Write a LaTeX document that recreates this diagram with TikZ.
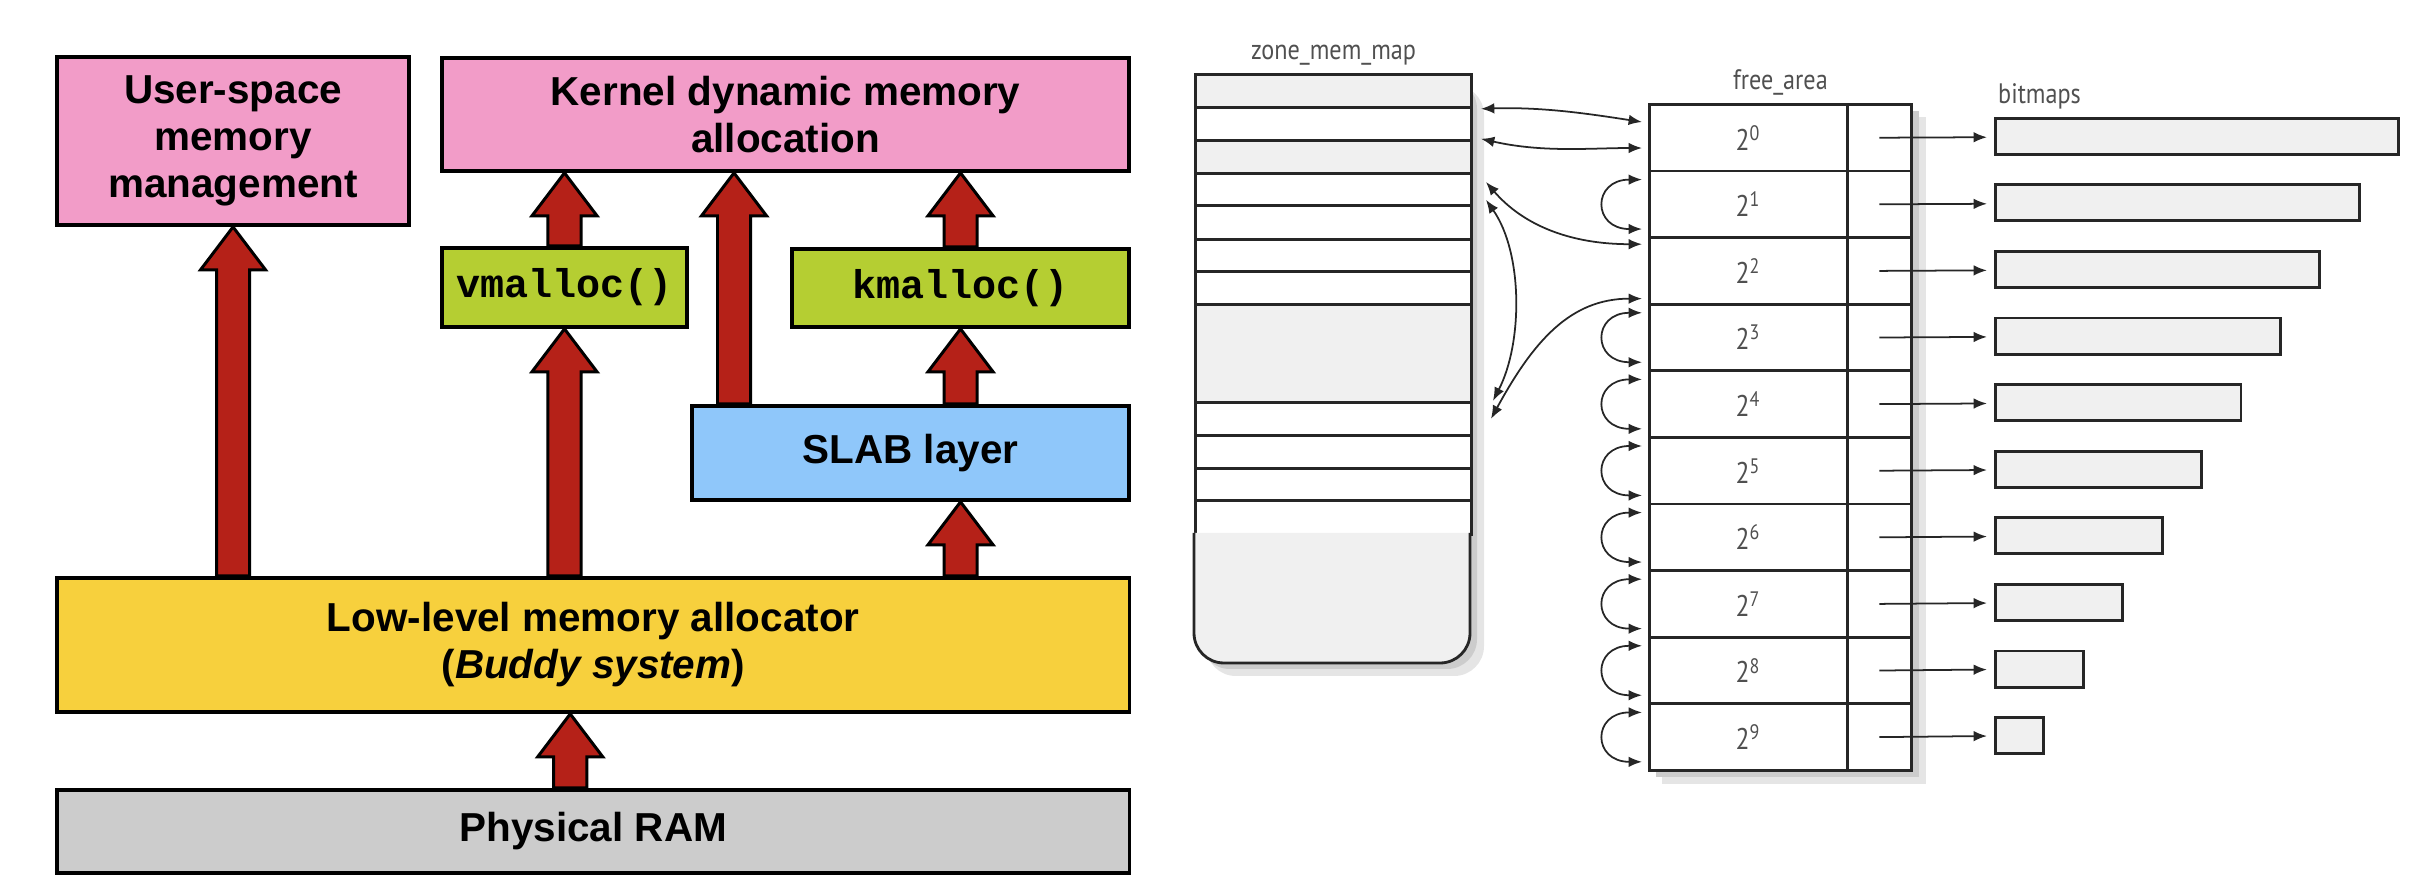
\documentclass[tikz,border=0pt]{standalone}
\usepackage{fontspec}
\setmainfont{Liberation Sans}
\setmonofont{Liberation Mono}
\newfontfamily\mapfont[FakeStretch=0.86]{PT Sans}
\usetikzlibrary{arrows.meta, calc, positioning}
\definecolor{memPink}{RGB}{242,156,200}
\definecolor{memGreen}{RGB}{181,206,50}
\definecolor{memBlue}{RGB}{143,199,250}
\definecolor{memYellow}{RGB}{247,208,61}
\definecolor{memGray}{RGB}{204,204,204}
\definecolor{arrowRed}{RGB}{181,33,24}
\definecolor{mapGray}{RGB}{240,240,240}
\definecolor{mapText}{RGB}{80,80,80}
\tikzset{
    mem_box/.style={
        draw=black,
        line width=1.1pt,
        inner sep=2pt,
        align=center,
        anchor=north west,
        font=\fontsize{11.5}{13.4}\selectfont\bfseries
    },
    code_box/.style={
        mem_box,
        fill=memGreen,
        font=\fontsize{11.4}{13.4}\selectfont\ttfamily\bfseries
    },
    big_arrow/.style={draw=black, fill=arrowRed, line width=0.85pt, line join=miter},
    map_row/.style={
        draw=black!85,
        line width=0.8pt,
        inner sep=0pt,
        minimum width=2.76cm,
        anchor=north west
    },
    fa_cell/.style={
        draw=black!85,
        fill=white,
        line width=0.8pt,
        inner sep=0pt,
        minimum height=0.666cm,
        anchor=north west,
        text=mapText,
        font=\mapfont\fontsize{8.5}{10}\selectfont
    },
    bitmap_box/.style={
        draw=black!85,
        fill=mapGray,
        line width=0.8pt,
        inner sep=0pt,
        minimum height=0.36cm,
        anchor=west
    },
    map_label/.style={inner sep=1pt, text=mapText, font=\mapfont\fontsize{8}{9.6}\selectfont},
    link_arrow/.style={draw=black!85, line width=0.5pt, >={Latex[length=3.8pt, width=3pt]}, <->},
    ptr_arrow/.style={draw=black!85, line width=0.5pt, >={Latex[length=3.8pt, width=3pt]}, ->, shorten >=2pt}
}
\newcommand{\upArrow}[2]{%
    \draw[big_arrow] let \p1=(#1), \p2=(#2) in
        (\x1-4.7pt,\y1) -- (\x1-4.7pt,\y2-12.2pt) -- (\x1-9.25pt,\y2-12.2pt) -- (\x1,\y2)
        -- (\x1+9.25pt,\y2-12.2pt) -- (\x1+4.7pt,\y2-12.2pt) -- (\x1+4.7pt,\y1) -- cycle;}

\begin{document}
\begin{tikzpicture}[x=0.01cm, y=-0.01cm]
    \useasboundingbox (0,0) rectangle (2414,886);

    % Left : memory allocation layers
    \node[mem_box, fill=memPink, minimum width=3.52cm, minimum height=1.68cm] (usr) at (55,55) {User-space\\memory\\management};
    \node[mem_box, fill=memPink, minimum width=6.87cm, minimum height=1.13cm] (kern) at (440,56) {Kernel dynamic memory\\allocation};
    \node[code_box, minimum width=2.45cm, minimum height=0.79cm] (vmal) at (440,246) {vmalloc()};
    \node[code_box, minimum width=3.37cm, minimum height=0.78cm] (kmal) at (790,247) {kmalloc()};
    \node[mem_box, fill=memBlue, minimum width=4.37cm, minimum height=0.94cm] (slab) at (690,404) {SLAB layer};
    \node[mem_box, fill=memYellow, minimum width=10.72cm, minimum height=1.34cm] (low) at (55,576) {Low-level memory allocator\\(\textit{Buddy system})};
    \node[mem_box, fill=memGray, minimum width=10.72cm, minimum height=0.83cm] (ram) at (55,788) {Physical RAM};

    \upArrow{low.north -| usr.south}{usr.south}
    \upArrow{low.north -| vmal.south}{vmal.south}
    \upArrow{vmal.north}{kern.south}
    \upArrow{[xshift=0.44cm]slab.north west}{kern.south}
    \upArrow{kmal.north}{kern.south}
    \upArrow{slab.north -| kmal.south}{kmal.south}
    \upArrow{low.north -| kmal.south}{slab.south}
    \upArrow{[xshift=-0.23cm]ram.north}{low.south}

    % Right : zone_mem_map
    \fill[black!10, rounded corners=8.5pt] (1206,85) rectangle (1484,676);
    \fill[black!20, rounded corners=8.5pt] (1200,79) rectangle (1477,669);
    \foreach \n/\ytop/\yh/\shade in {1/73/33/mapGray, 2/106/33/white, 3/139/33/mapGray, 4/172/32/white,
        5/204/34/white, 6/238/32/white, 7/270/33/white, 8/303/98/mapGray, 9/401/33/white,
        10/434/33/white, 11/467/32/white, 12/499/34/white}
        \node[map_row, fill=\shade, minimum height=\yh*0.01cm] (zm\n) at (1194,\ytop) {};
    \draw[draw=black!85, line width=0.8pt, fill=mapGray, rounded corners=8.5pt]
        (1194,533) -- (1194,663) -- (1470,663) -- (1470,533);
    \node[map_label, above=1pt of zm1] (zmtitle) {zone\_mem\_map};

    % free_area and bitmaps
    \fill[black!10] (1662,117) rectangle (1926,784);
    \fill[black!20] (1656,111) rectangle (1919,777);
    \foreach \i in {0,...,9} {
        \node[fa_cell, minimum width=1.98cm] (ord\i) at (1648,{103+66.6*\i}) {2\textsuperscript{\i}};
        \node[fa_cell, minimum width=0.64cm] (ptr\i) at (1846,{103+66.6*\i}) {};
        \node[bitmap_box, minimum width={(4.03-0.394*\i)*1cm}] (bm\i) at (1994,{136.3+66.6*\i}) {};
        \draw[ptr_arrow] (ptr\i.center) -- (bm\i);
    }
    \coordinate (fatop) at ($(ord0.north west)!0.5!(ptr0.north east)$);
    \node[map_label, above=1pt of fatop] (fatitle) {free\_area};
    \node[map_label, above right=1pt and 0pt of bm0.north west] (bmtitle) {bitmaps};

    % links between zone_mem_map and free_area
    \foreach \i in {1,3,4,5,6,7,8,9}
        \draw[link_arrow] ([xshift=-0.06cm, yshift=-0.1cm]ord\i.north west) .. controls +(-0.5cm,0) and +(-0.5cm,0)
            .. ([xshift=-0.06cm, yshift=0.1cm]ord\i.south west);
    \draw[link_arrow] ([xshift=0.08cm]zm1.south east) .. controls +(0.62cm,0.02cm) and +(-0.52cm,0.08cm)
        .. ([xshift=-0.06cm, yshift=-0.19cm]ord0.north west);
    \draw[link_arrow] ([xshift=0.08cm, yshift=0.03cm]zm2.south east) .. controls +(0.62cm,-0.14cm) and +(-0.52cm,0)
        .. ([xshift=-0.06cm, yshift=-0.45cm]ord0.north west);
    \draw[link_arrow] ([xshift=0.13cm, yshift=-0.1cm]zm4.north east) .. controls +(0.37cm,-0.43cm) and +(-0.72cm,0)
        .. ([xshift=-0.06cm, yshift=-0.08cm]ord2.north west);
    \draw[link_arrow] ([xshift=0.13cm, yshift=0.07cm]zm4.south east) .. controls +(0.37cm,-0.53cm) and +(0.3cm,0.58cm)
        .. ([xshift=0.2cm, yshift=0.03cm]zm8.south east);
    \draw[link_arrow] ([xshift=0.18cm]zm9.east) .. controls +(0.42cm,0.77cm) and +(-0.72cm,0)
        .. ([xshift=-0.06cm, yshift=0.07cm]ord2.south west);
\end{tikzpicture}
\end{document}
